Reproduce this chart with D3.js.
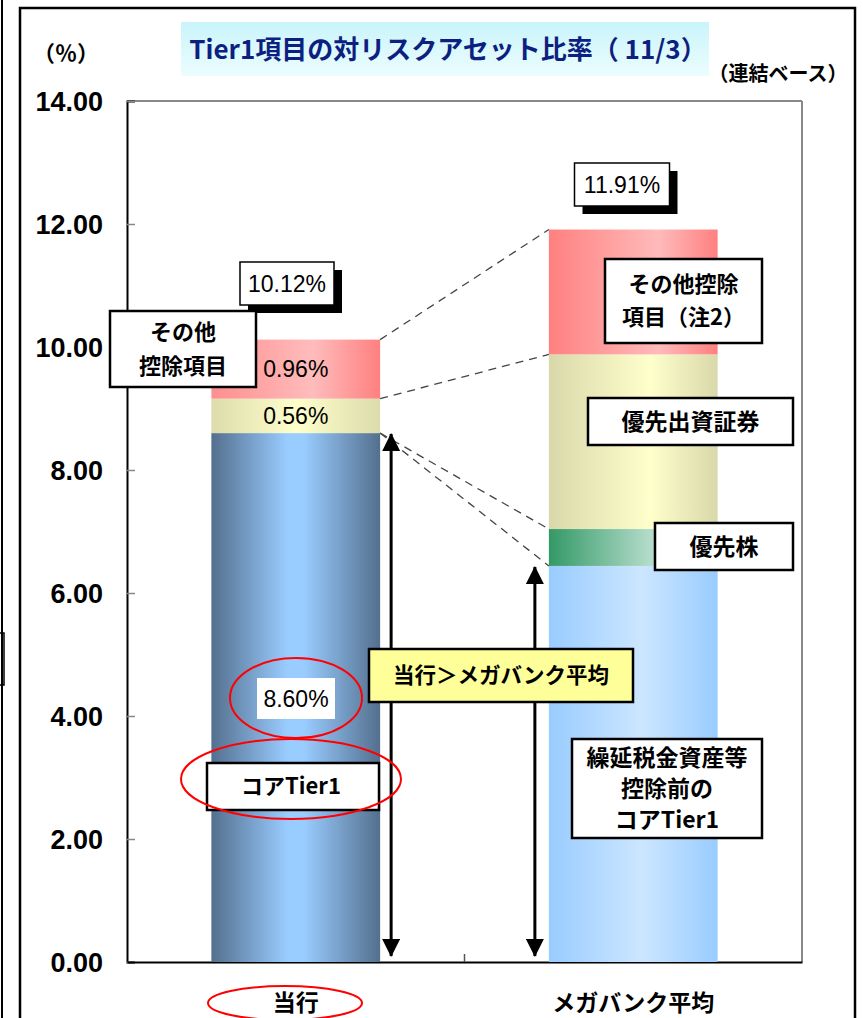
<!DOCTYPE html>
<html>
<head>
<meta charset="utf-8">
<script src="https://cdn.jsdelivr.net/npm/d3@7"></script>
<style>
  html, body { margin: 0; padding: 0; background: #fff; }
  svg { display: block; }
</style>
</head>
<body>
<svg id="chart" width="863" height="1018"></svg>
<script>
// Tier1 components as a share of risk assets (consolidated, 11/3)
const categories = ['当行', 'メガバンク平均'];
const seriesKeys = ['core', 'prefShares', 'prefSecurities', 'other'];
const coreTier1 = [8.60, 6.44];          // コアTier1
const preferredShares = [0.00, 0.60];    // 優先株
const preferredSecurities = [0.56, 2.84];// 優先出資証券
const otherDeductions = [0.96, 2.03];    // その他控除項目
const totals = [10.12, 11.91];
const yTicks = [0, 2, 4, 6, 8, 10, 12, 14];

const JP = '"Noto Sans CJK JP", "Noto Sans", sans-serif';
const NUM = '"Liberation Sans", Arial, sans-serif';

const svg = d3.select('#chart');
const defs = svg.append('defs');

const plot = { left: 127, right: 802, top: 101, bottom: 962 };

const x = d3.scaleBand()
  .domain(categories)
  .range([plot.left, plot.right])
  .paddingInner(0.5)
  .paddingOuter(0.25);

const y = d3.scaleLinear()
  .domain([0, 14])
  .range([plot.bottom, plot.top]);

// ---- page frame ----
svg.append('line').attr('x1', 2).attr('x2', 2).attr('y1', 0).attr('y2', 1018)
  .attr('stroke', '#000').attr('stroke-width', 2);
svg.append('path').attr('d', 'M0,633 H4 V685 H0')
  .attr('fill', 'none').attr('stroke', '#000').attr('stroke-width', 1.5);
svg.append('rect').attr('x', 20).attr('y', 8).attr('width', 835).attr('height', 1030)
  .attr('fill', 'none').attr('stroke', '#000').attr('stroke-width', 2.5);

// ---- title ----
const tg = defs.append('linearGradient').attr('id', 'titleGrad')
  .attr('x1', 0).attr('y1', 0).attr('x2', 0).attr('y2', 1);
tg.append('stop').attr('offset', '0%').attr('stop-color', '#c9f4fa');
tg.append('stop').attr('offset', '100%').attr('stop-color', '#ecfdfe');
svg.append('rect').attr('x', 181).attr('y', 22).attr('width', 528).attr('height', 54)
  .attr('fill', 'url(#titleGrad)');
svg.append('text').attr('x', 448).attr('y', 59)
  .attr('text-anchor', 'middle')
  .attr('font-family', JP).attr('font-weight', 'bold').attr('font-size', 26)
  .attr('fill', '#0d1f80')
  .text('Tier1項目の対リスクアセット比率（ 11/3）');

svg.append('text').attr('x', 66).attr('y', 61).attr('text-anchor', 'middle')
  .attr('font-family', JP).attr('font-weight', 'bold').attr('font-size', 22)
  .text('（％）');
svg.append('text').attr('x', 778).attr('y', 81).attr('text-anchor', 'middle')
  .attr('font-family', JP).attr('font-weight', 'bold').attr('font-size', 20)
  .text('（連結ベース）');

// ---- plot frame ----
svg.append('line').attr('x1', plot.left).attr('x2', plot.right)
  .attr('y1', plot.top).attr('y2', plot.top).attr('stroke', '#888').attr('stroke-width', 2);
svg.append('line').attr('x1', plot.right).attr('x2', plot.right)
  .attr('y1', plot.top).attr('y2', plot.bottom).attr('stroke', '#888').attr('stroke-width', 2);

// ---- y axis ----
const yAxis = svg.append('g').attr('transform', `translate(${plot.left},0)`)
  .call(d3.axisLeft(y).tickValues(yTicks).tickSize(-8).tickPadding(0).tickFormat(d3.format('.2f')));
yAxis.select('.domain').attr('stroke', '#000').attr('stroke-width', 2);
yAxis.selectAll('.tick line').attr('stroke', '#888').attr('stroke-width', 1.5);
yAxis.selectAll('.tick text')
  .attr('x', -24).attr('dy', '0.36em')
  .attr('font-family', NUM).attr('font-weight', 'bold').attr('font-size', 27)
  .attr('fill', '#000');

// ---- x axis ----
const xAxis = svg.append('g').attr('transform', `translate(0,${plot.bottom})`)
  .call(d3.axisBottom(x).tickSize(0).tickPadding(0));
xAxis.select('.domain').attr('stroke', '#000').attr('stroke-width', 2);
xAxis.selectAll('.tick text')
  .attr('y', 33)
  .attr('font-family', JP).attr('font-weight', 'bold').attr('font-size', 23)
  .attr('fill', '#000');
// divider tick between the two categories
svg.append('line')
  .attr('x1', (plot.left + plot.right) / 2).attr('x2', (plot.left + plot.right) / 2)
  .attr('y1', plot.bottom).attr('y2', plot.bottom - 8)
  .attr('stroke', '#555').attr('stroke-width', 1.5);

// ---- gradients for the stacked segments ----
const gradStops = {
  '当行': {
    core: [[0, '#546f8e'], [0.45, '#99ccff'], [0.55, '#99ccff'], [1, '#546f8e']],
    prefShares: [[0, '#339966'], [1, '#b5dcca']],
    prefSecurities: [[0, '#dcdcac'], [0.5, '#ffffcc'], [1, '#dcdcac']],
    other: [[0, '#ff8e8e'], [0.6, '#ffbcbc'], [1, '#ff8080']]
  },
  'メガバンク平均': {
    core: [[0, '#99ccff'], [0.55, '#cce6ff'], [1, '#99ccff']],
    prefShares: [[0, '#339966'], [0.6, '#b3dcca'], [1, '#b8decd']],
    prefSecurities: [[0, '#d8d8aa'], [0.6, '#ffffcc'], [1, '#d8d8aa']],
    other: [[0, '#ff8080'], [0.65, '#ffbaba'], [1, '#ff8080']]
  }
};
categories.forEach((c, ci) => {
  seriesKeys.forEach(k => {
    const g = defs.append('linearGradient').attr('id', `g-${ci}-${k}`)
      .attr('x1', 0).attr('y1', 0).attr('x2', 1).attr('y2', 0);
    gradStops[c][k].forEach(([o, col]) =>
      g.append('stop').attr('offset', o).attr('stop-color', col));
  });
});

// ---- stacked bars ----
const rows = categories.map((c, i) => ({
  category: c,
  core: coreTier1[i],
  prefShares: preferredShares[i],
  prefSecurities: preferredSecurities[i],
  other: otherDeductions[i]
}));
const stacked = d3.stack().keys(seriesKeys)(rows);

const barsG = svg.append('g');
stacked.forEach(layer => {
  barsG.selectAll(null)
    .data(layer)
    .join('rect')
    .attr('x', d => x(d.data.category))
    .attr('width', x.bandwidth())
    .attr('y', d => y(d[1]))
    .attr('height', d => y(d[0]) - y(d[1]))
    .attr('fill', d => `url(#g-${categories.indexOf(d.data.category)}-${layer.key})`);
});

// ---- dashed connectors between the bars ----
const leftEdge = x(categories[0]) + x.bandwidth();
const rightEdge = x(categories[1]);
const connectors = [
  [totals[0], totals[1]],
  [coreTier1[0] + preferredSecurities[0], coreTier1[1] + preferredShares[1] + preferredSecurities[1]],
  [coreTier1[0], coreTier1[1] + preferredShares[1]],
  [coreTier1[0], coreTier1[1]]
];
svg.append('g').selectAll('line').data(connectors).join('line')
  .attr('x1', leftEdge).attr('y1', d => y(d[0]))
  .attr('x2', rightEdge).attr('y2', d => y(d[1]))
  .attr('stroke', '#444').attr('stroke-width', 1.3)
  .attr('stroke-dasharray', '8,6');

// ---- double-headed arrows for core Tier1 ----
defs.append('marker').attr('id', 'arrowHead')
  .attr('viewBox', '0 0 18 18').attr('refX', 17).attr('refY', 9)
  .attr('markerWidth', 18).attr('markerHeight', 18)
  .attr('markerUnits', 'userSpaceOnUse').attr('orient', 'auto-start-reverse')
  .append('path').attr('d', 'M0,0 L18,9 L0,18 Z').attr('fill', '#000');

const arrows = [
  { xPos: leftEdge + 11, top: coreTier1[0] },
  { xPos: rightEdge - 14, top: coreTier1[1] }
];
svg.append('g').selectAll('line').data(arrows).join('line')
  .attr('x1', d => d.xPos).attr('x2', d => d.xPos)
  .attr('y1', d => y(d.top) + 1).attr('y2', y(0) - 6)
  .attr('stroke', '#000').attr('stroke-width', 3)
  .attr('marker-start', 'url(#arrowHead)')
  .attr('marker-end', 'url(#arrowHead)');

// ---- annotation helpers ----
function valueBox(cx, top, w, h, label) {
  const g = svg.append('g');
  g.append('rect').attr('x', cx - w / 2 + 8).attr('y', top + 8).attr('width', w).attr('height', h)
    .attr('fill', '#000');
  g.append('rect').attr('x', cx - w / 2).attr('y', top).attr('width', w).attr('height', h)
    .attr('fill', '#fff').attr('stroke', '#000').attr('stroke-width', 1.5);
  g.append('text').attr('x', cx).attr('y', top + h / 2).attr('dy', '0.36em')
    .attr('text-anchor', 'middle').attr('font-family', NUM).attr('font-size', 23)
    .text(label);
}
function labelBox(x0, y0, w, h, lines, opts = {}) {
  const g = svg.append('g');
  g.append('rect').attr('x', x0).attr('y', y0).attr('width', w).attr('height', h)
    .attr('fill', opts.fill || '#fff').attr('stroke', '#000').attr('stroke-width', 2.5);
  const fs = opts.fontSize || 22;
  const lh = opts.lineHeight || 31;
  const t = g.append('text').attr('text-anchor', 'middle')
    .attr('font-family', JP).attr('font-weight', 'bold').attr('font-size', fs);
  const startY = y0 + h / 2 - (lines.length - 1) * lh / 2;
  lines.forEach((ln, i) => {
    t.append('tspan').attr('x', x0 + w / 2 + (opts.dx || 0)).attr('y', startY + i * lh)
      .attr('dy', '0.36em').text(ln);
  });
}
function segmentLabel(ci, bottomVal, topVal, label) {
  svg.append('text')
    .attr('x', x(categories[ci]) + x.bandwidth() / 2)
    .attr('y', (y(bottomVal) + y(topVal)) / 2).attr('dy', '0.36em')
    .attr('text-anchor', 'middle').attr('font-family', NUM).attr('font-size', 23)
    .text(label);
}

// totals above the bars
valueBox(287, 262, 94, 43, d3.format('.2f')(totals[0]) + '%');
valueBox(622, 163, 95, 43, d3.format('.2f')(totals[1]) + '%');

// segment values on the left bar
segmentLabel(0, coreTier1[0] + preferredSecurities[0], totals[0], d3.format('.2f')(otherDeductions[0]) + '%');
segmentLabel(0, coreTier1[0], coreTier1[0] + preferredSecurities[0], d3.format('.2f')(preferredSecurities[0]) + '%');

// core Tier1 value on the left bar
svg.append('rect').attr('x', 257).attr('y', 678).attr('width', 78).attr('height', 41).attr('fill', '#fff');
svg.append('text').attr('x', 296).attr('y', 699).attr('dy', '0.36em')
  .attr('text-anchor', 'middle').attr('font-family', NUM).attr('font-size', 23)
  .text(d3.format('.2f')(coreTier1[0]) + '%');

// category labels
labelBox(110, 311, 146, 76, ['その他', '控除項目'], { fontSize: 22, lineHeight: 34 });
labelBox(207, 763, 172, 47, ['コアTier1'], { fontSize: 22, dx: -2 });
labelBox(605, 259, 157, 84, ['その他控除', '項目（注2）'], { fontSize: 22, lineHeight: 33 });
labelBox(588, 398, 205, 47, ['優先出資証券'], { fontSize: 23 });
labelBox(655, 523, 138, 47, ['優先株'], { fontSize: 23 });
labelBox(572, 739, 190, 99, ['繰延税金資産等', '控除前の', 'コアTier1'], { fontSize: 23, lineHeight: 31 });
labelBox(369, 649, 264, 53, ['当行＞メガバンク平均'], { fill: '#ffff99', fontSize: 21.5 });

// red highlight ellipses
const ellipses = [
  { cx: 296, cy: 698, rx: 66, ry: 40 },
  { cx: 291, cy: 779, rx: 110, ry: 40 },
  { cx: 285, cy: 1003, rx: 77, ry: 17 }
];
svg.append('g').selectAll('ellipse').data(ellipses).join('ellipse')
  .attr('cx', d => d.cx).attr('cy', d => d.cy).attr('rx', d => d.rx).attr('ry', d => d.ry)
  .attr('fill', 'none').attr('stroke', '#ff0000').attr('stroke-width', 2);
</script>
</body>
</html>
